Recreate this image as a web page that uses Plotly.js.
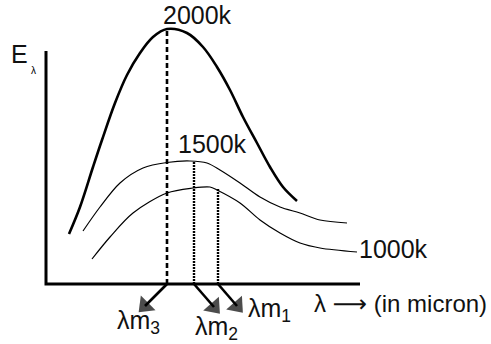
<!DOCTYPE html>
<html>
<head>
<meta charset="utf-8">
<script src="https://cdn.plot.ly/plotly-3.0.1.min.js"></script>
<style>
  html, body { margin: 0; padding: 0; background: #fff; }
  #chart { width: 491px; height: 344px; }
</style>
</head>
<body>
<div id="chart"></div>
<script>
// Black-body radiation curves: spectral emissive power E_λ against wavelength λ
// Wavelength (arbitrary micron scale) and intensity (arbitrary units)

const lambda2000 = [0.46, 0.68, 0.94, 1.12, 1.38, 1.62, 1.88, 2.14, 2.42, 2.82, 3.14, 3.42, 3.68, 3.94, 4.22, 4.48, 4.74, 5.02];
const energy2000 = [2.00, 3.08, 4.68, 5.76, 7.24, 8.36, 9.24, 9.88, 10.20, 10.04, 9.48, 8.68, 7.76, 6.68, 5.64, 4.68, 3.88, 3.32];

const lambda1500 = [0.74, 1.08, 1.48, 1.94, 2.42, 2.88, 3.22, 3.48, 3.88, 4.28, 4.68, 5.08, 5.48, 6.02];
const energy1500 = [2.12, 3.08, 4.04, 4.64, 4.86, 4.92, 4.84, 4.56, 4.04, 3.48, 3.08, 2.84, 2.56, 2.44];

const lambda1000 = [0.92, 1.28, 1.74, 2.42, 2.94, 3.28, 3.42, 3.88, 4.28, 4.68, 5.08, 5.48, 6.22];
const energy1000 = [1.00, 1.88, 2.84, 3.64, 3.84, 3.88, 3.76, 3.24, 2.56, 2.04, 1.64, 1.44, 1.28];

// Wavelengths of maximum emission (λm3 < λm2 < λm1) and the peak heights they drop from
const peakLabels = ['λm<sub>3</sub>', 'λm<sub>2</sub>', 'λm<sub>1</sub>'];
const peakLambda = [2.42, 2.96, 3.44];
const peakEnergy = [10.20, 4.92, 3.80];
// Arrowhead centres below the λ axis, and label centres
const arrowHeadX = [1.98, 3.36, 3.82];
const arrowHeadY = [-0.88, -0.92, -0.88];
const labelX = [1.84, 3.40, 4.46];
const labelY = [-1.52, -1.76, -1.04];

const temperatureLabels = ['2000k', '1500k', '1000k'];

// Axis extents
const axisLambdaEnd = 6.28;
const axisEnergyTop = 9.32;

const FONT = 'Liberation Sans, Arial, Helvetica, sans-serif';

const traces = [
  { // axes drawn as an L
    x: [0, 0, axisLambdaEnd], y: [axisEnergyTop, 0, 0],
    mode: 'lines', line: { color: '#000', width: 3 }, hoverinfo: 'skip'
  },
  {
    x: lambda2000, y: energy2000, mode: 'lines',
    line: { color: '#000', width: 2.6, shape: 'spline', smoothing: 1 }
  },
  {
    x: lambda1500, y: energy1500, mode: 'lines',
    line: { color: '#000', width: 1.2, shape: 'spline', smoothing: 0.9 }
  },
  {
    x: lambda1000, y: energy1000, mode: 'lines',
    line: { color: '#000', width: 1.2, shape: 'spline', smoothing: 0.9 }
  }
];

// Perpendiculars from each peak down to the λ axis, and arrows pointing to λm
const dashStyles = ['5px,3px', '2px,1px', '2px,1px'];
const dashWidths = [2.6, 2.4, 2.4];
peakLambda.forEach((lx, i) => {
  traces.push({
    x: [lx, lx], y: [0, peakEnergy[i]], mode: 'lines',
    line: { color: '#000', width: dashWidths[i], dash: dashStyles[i] }
  });
  traces.push({
    x: [lx, arrowHeadX[i]], y: [0, arrowHeadY[i]], mode: 'lines+markers',
    line: { color: '#000', width: 2.6 },
    marker: { symbol: ['circle', 'triangle-up'], size: [0, 18], angleref: 'previous', color: '#000', line: { width: 0 } }
  });
});

const annotations = [
  { x: 3.02, y: 10.76, text: temperatureLabels[0], xanchor: 'center', yanchor: 'middle' },
  { x: 3.32, y: 5.60, text: temperatureLabels[1], xanchor: 'center', yanchor: 'middle' },
  { x: 6.22, y: 1.40, text: temperatureLabels[2], xanchor: 'left', yanchor: 'middle' },
  { x: 5.32, y: -0.80, text: 'λ <span style="font-family:DejaVu Sans">⟶</span> (in micron)', xanchor: 'left', yanchor: 'middle',
    font: { family: FONT, size: 24, color: '#111' } },
  { x: -0.54, y: 9.20, text: 'E', xanchor: 'center', yanchor: 'middle' },
  { x: -0.26, y: 8.55, text: 'λ', xanchor: 'center', yanchor: 'middle', font: { family: FONT, size: 10, color: '#000' } }
].map(a => Object.assign({ xref: 'x', yref: 'y', showarrow: false, font: { family: FONT, size: 25, color: '#111' } }, a));

peakLambda.forEach((lx, i) => {
  annotations.push({
    xref: 'x', yref: 'y', x: labelX[i], y: labelY[i], text: peakLabels[i],
    showarrow: false, xanchor: 'center', yanchor: 'middle',
    font: { family: FONT, size: 25, color: '#111' }
  });
});

const layout = {
  width: 491, height: 344,
  margin: { l: 0, r: 0, t: 0, b: 0, pad: 0 },
  paper_bgcolor: '#fff', plot_bgcolor: '#fff',
  showlegend: false,
  xaxis: { range: [-0.92, 8.9], visible: false, fixedrange: true },
  yaxis: { range: [-2.4, 11.36], visible: false, fixedrange: true },
  annotations: annotations
};

Plotly.newPlot('chart', traces, layout, { staticPlot: true, displayModeBar: false });
</script>
</body>
</html>
